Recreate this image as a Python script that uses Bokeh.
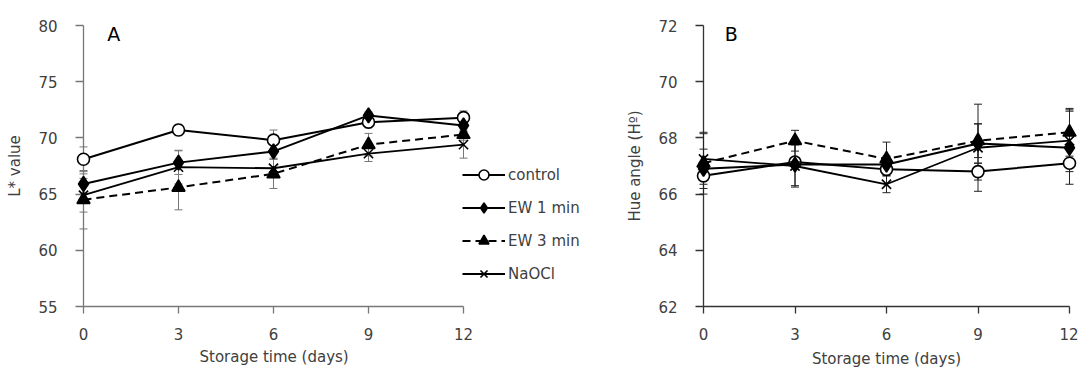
from bokeh.plotting import figure
from bokeh.models import Range1d, FixedTicker, Legend, LegendItem, Label, Title
from bokeh.layouts import row
from bokeh.embed import file_html
from bokeh.resources import INLINE

# ---------------- data ----------------
days = [0, 3, 6, 9, 12]
series_names = ["control", "EW 1 min", "EW 3 min", "NaOCl"]

# Panel A: L* value
L_control = [68.1, 70.7, 69.8, 71.4, 71.8]
L_ew1 = [65.9, 67.8, 68.8, 72.0, 71.1]
L_ew3 = [64.5, 65.6, 66.8, 69.4, 70.3]
L_naocl = [64.9, 67.4, 67.3, 68.6, 69.4]
L_control_sd = [1.1, 0.5, 0.9, 0.5, 0.6]
L_ew1_sd = [0.9, 1.05, 0.6, 0.3, 0.5]
L_ew3_sd = [2.6, 2.0, 1.3, 1.0, 0.5]
L_naocl_sd = [1.5, 1.5, 0.8, 0.7, 1.2]

# Panel B: Hue angle
H_control = [66.65, 67.14, 66.88, 66.8, 67.1]
H_ew1 = [66.9, 67.05, 67.05, 67.8, 67.65]
H_ew3 = [67.1, 67.9, 67.25, 67.9, 68.2]
H_naocl = [67.25, 67.0, 66.35, 67.65, 67.9]
H_control_sd = [0.1, 0.1, 0.1, 0.3, 0.1]
H_ew1_sd = [0.7, 0.75, 0.3, 0.7, 1.3]
H_ew3_sd = [1.1, 0.37, 0.6, 0.6, 0.85]
H_naocl_sd = [0.9, 0.75, 0.3, 1.55, 1.1]

A_ticks = [55, 60, 65, 70, 75, 80]
B_ticks = [62, 64, 66, 68, 70, 72]
x_title = "Storage time (days)"

FONT = "DejaVu Sans"
TXT = "#404040"
H = 371

styles = [
    dict(marker="circle", fill="white", size=12, dash="solid", lw=2.0),
    dict(marker="diamond", fill="black", size=15, dash="solid", lw=2.0),
    dict(marker="triangle", fill="black", size=13, dash="8 5", lw=2.0),
    dict(marker="x", fill="black", size=13, dash="solid", lw=1.8),
]


def make_fig(width, x_end, mbl, mbr, mbt, mbb, ylo, yhi, yticks, ytitle, axis_color,
             err_color, series, sds, panel_letter, letter_x, letter_y, xtitle):
    p = figure(width=width, height=H, output_backend="svg", toolbar_location=None,
               x_range=Range1d(0, x_end), y_range=Range1d(ylo, yhi),
               min_border_left=mbl, min_border_right=mbr, min_border_top=mbt,
               min_border_bottom=mbb)
    p.outline_line_color = None
    p.grid.visible = False
    p.background_fill_color = "white"
    p.border_fill_color = "white"

    for ax in (p.xaxis[0], p.yaxis[0]):
        ax.axis_line_color = axis_color
        ax.axis_line_width = 1.3
        ax.major_tick_line_color = axis_color
        ax.major_tick_line_width = 1.3
        ax.major_tick_in = 0
        ax.minor_tick_line_color = None
        ax.major_label_text_font = FONT
        ax.major_label_text_font_size = "15px"
        ax.major_label_text_color = TXT
        ax.axis_label_text_font = FONT
        ax.axis_label_text_font_size = "15px"
        ax.axis_label_text_font_style = "normal"
        ax.axis_label_text_color = TXT

    p.xaxis.ticker = FixedTicker(ticks=days)
    p.xaxis.bounds = (days[0], days[-1])
    p.xaxis.major_tick_out = 7
    p.xaxis.major_label_standoff = 14
    if xtitle:
        p.xaxis.axis_label = xtitle
        p.xaxis.axis_label_standoff = 7

    p.yaxis.ticker = FixedTicker(ticks=yticks)
    p.yaxis.major_tick_out = 8
    p.yaxis.major_label_standoff = 18
    p.yaxis.axis_label = ytitle
    p.yaxis.axis_label_standoff = 11

    items = []
    for name, ys, sd, st in zip(series_names, series, sds, styles):
        lo = [y - s for y, s in zip(ys, sd)]
        hi = [y + s for y, s in zip(ys, sd)]
        r = p.segment(x0=days, y0=lo, x1=days, y1=hi, line_color=err_color, line_width=1)
        r.level = "overlay"
        r = p.scatter(x=days + days, y=lo + hi, marker="dash", size=8,
                      line_color=err_color, line_width=1)
        r.level = "overlay"

    for name, ys, sd, st in zip(series_names, series, sds, styles):
        lr = p.line(x=days, y=ys, line_color="black", line_width=st["lw"], line_dash=st["dash"])
        lr.level = "overlay"
        mr = p.scatter(x=days, y=ys, marker=st["marker"], size=st["size"],
                       fill_color=st["fill"], line_color="black", line_width=1.6)
        mr.level = "overlay"
        items.append(LegendItem(label=name, renderers=[lr, mr]))

    p.add_layout(Label(x=letter_x, y=letter_y, text=panel_letter, text_font=FONT,
                       text_font_size="19px", text_color="black",
                       text_baseline="alphabetic"))
    return p, items


# Panel A: frame spans days 0..12 over 380 px, extended to the right for the legend
WA = 590
A_left = 83
A_frame_w = WA - A_left
A_x_end = 12 * A_frame_w / 380.0

pA, itemsA = make_fig(WA, A_x_end, A_left, 0, 25, 64, 55, 80, A_ticks, "L* value",
                      "#777777", "#777777",
                      [L_control, L_ew1, L_ew3, L_naocl],
                      [L_control_sd, L_ew1_sd, L_ew3_sd, L_naocl_sd], "A", 0.75, 79.25, None)

# x-axis title of panel A, centred under the 0..12 axis span (not the widened frame)
pA.add_layout(Title(text=x_title, align="left", offset=116, standoff=7,
                    text_font=FONT, text_font_size="15px", text_font_style="normal",
                    text_color=TXT), "below")

legend = Legend(items=itemsA, location=(379, 20), orientation="vertical",
                glyph_width=43, glyph_height=25, label_height=25, spacing=8,
                label_standoff=3, padding=0, margin=0,
                border_line_color=None, background_fill_alpha=0,
                label_text_font=FONT, label_text_font_size="15px",
                label_text_color=TXT)
pA.add_layout(legend, "center")

WB = 1078 - WA
pB, _ = make_fig(WB, 12, 703 - WA, 9, 24, 65, 62, 72, B_ticks, "Hue angle (H\u00ba)",
                 "#333333", "#222222",
                 [H_control, H_ew1, H_ew3, H_naocl],
                 [H_control_sd, H_ew1_sd, H_ew3_sd, H_naocl_sd], "B", 0.7, 71.7, x_title)

layout = row(pA, pB)
open("out.html", "w").write(file_html(layout, INLINE))
